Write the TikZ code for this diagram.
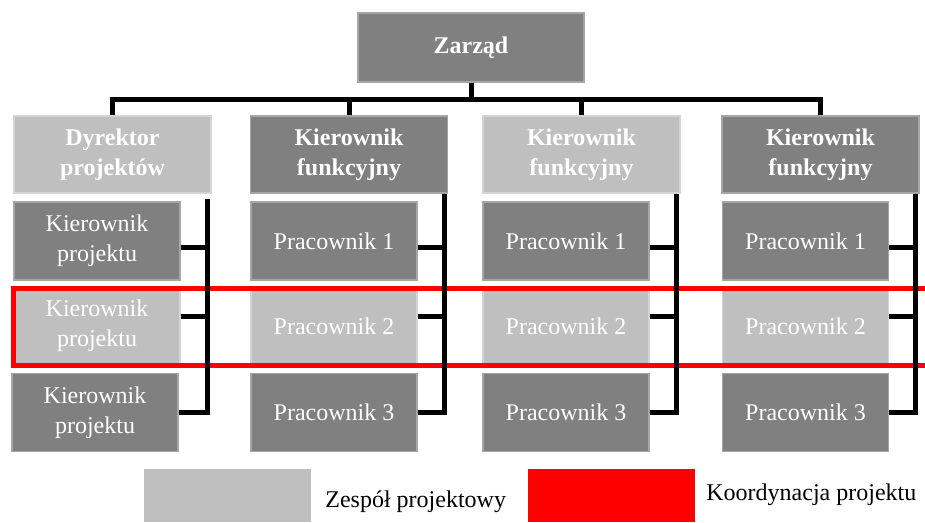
\documentclass[tikz,border=0pt]{standalone}
\usepackage{fontspec}
\setmainfont{Liberation Serif}
\usepackage{tikz}
\usetikzlibrary{calc}
\definecolor{boxdark}{HTML}{808080}
\definecolor{boxlight}{HTML}{BFBFBF}
\definecolor{edgedark}{HTML}{A6A6A6}
\definecolor{edgelight}{HTML}{D4D4D4}
\definecolor{coordred}{HTML}{FF0000}
\tikzset{
  box/.style={line width=1.5pt, text=white, align=center, inner sep=0pt,
    font=\fontsize{24}{30}\selectfont},
  dark/.style={box, fill=boxdark, draw=edgedark},
  light/.style={box, fill=boxlight, draw=edgelight},
  head/.style={minimum width=197pt, minimum height=77pt,
    font=\fontsize{24}{30}\selectfont\bfseries},
  member/.style={minimum width=166pt, minimum height=78pt},
  link/.style={line width=5pt, line join=miter},
  keybox/.style={inner sep=0pt, minimum width=167pt, minimum height=53pt},
  keytext/.style={anchor=base west, inner sep=0pt, font=\fontsize{24}{30}\selectfont},
}

\begin{document}
\begin{tikzpicture}[x=1pt, y=-1pt]
\useasboundingbox (0,0) rectangle (925,522);

% board and heads
\node[dark, head, minimum width=226pt, minimum height=69pt] (zarzad) at (471,47.5) {Zarząd};
\node[light, head] (h1) at (112.5,154.5) {Dyrektor\\projektów};
\node[dark, head] (h2) at (349,154.5) {Kierownik\\funkcyjny};
\node[light, head] (h3) at (581.5,154.5) {Kierownik\\funkcyjny};
\node[dark, head] (h4) at (820.5,154.5) {Kierownik\\funkcyjny};

% project managers
\node[dark, member] (m11) at (97,241) {Kierownik\\projektu};
\node[light, member] (m12) at (97,326) {Kierownik\\projektu};
\node[dark, member] (m13) at (95,412.5) {Kierownik\\projektu};

% workers
\foreach \c/\x in {2/334,3/566,4/805.5} {
  \node[dark, member] (m\c1) at (\x,241) {Pracownik 1};
  \node[light, member] (m\c2) at (\x,326) {Pracownik 2};
  \node[dark, member] (m\c3) at (\x,412.5) {Pracownik 3};
}

% project coordination
\draw[coordred, line width=5pt, line join=miter] (925,288) -| (13,365) -- (925,365);

% links
\foreach \c in {1,2,3,4}
  \draw[link] (zarzad.south) -- ++(0,17) -| (h\c.north);
\coordinate (v1) at ([xshift=-4pt, yshift=-5pt]h1.south east);
\foreach \c in {2,3,4}
  \coordinate (v\c) at ([xshift=-4pt]h\c.south east);
\foreach \c in {1,2,3,4} {
  \draw[link] ($(m\c1.east)+(0,6)$) -| (v\c);
  \draw[link] ($(m\c2.east)+(0,-10)$) -| (v\c);
  \draw[link] (m\c3.east) -| (v\c);
}

% legend
\node[keybox, fill=boxlight] (keyteam) at (227.5,495.5) {};
\node[keytext] (keyteamtext) at ([xshift=14pt, yshift=-11.5pt]keyteam.east) {Zespół projektowy};
\node[keybox, fill=coordred] (keycoord) at (611.5,495.5) {};
\node[keytext] (keycoordtext) at ([xshift=11pt, yshift=-4.5pt]keycoord.east) {Koordynacja projektu};
\end{tikzpicture}
\end{document}
